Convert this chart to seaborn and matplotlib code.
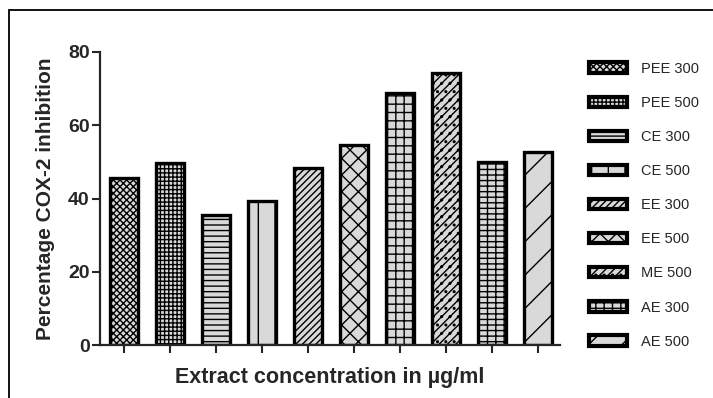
import seaborn as sns
import matplotlib.pyplot as plt
from matplotlib.patches import Patch, Rectangle

# bar data
extracts = ["PEE 300", "PEE 500", "CE 300", "CE 500", "EE 300",
            "EE 500", "ME 300", "ME 500", "AE 300", "AE 500"]
inhibition = [45.6, 49.8, 35.5, 39.4, 48.3, 54.5, 68.7, 74.3, 50.1, 52.6]
hatches = ["xxxxx", "++++", "---", "|", "/////", "xx", "++", "////..", "---||", "/"]

# legend in the original only lists nine of the ten bars
legend_labels = ["PEE 300", "PEE 500", "CE 300", "CE 500", "EE 300",
                 "EE 500", "ME 500", "AE 300", "AE 500"]
legend_hatches = ["xxxxx", "++++", "---", "|", "/////", "xx", "////..", "---||", "/"]

sns.set_style("ticks")
plt.rcParams["font.family"] = ["Liberation Sans", "DejaVu Sans"]
plt.rcParams["hatch.linewidth"] = 1.0

fig = plt.figure(figsize=(7.13, 3.98), dpi=100)
ax = fig.add_axes([100 / 713, 1 - 345 / 398, (560 - 100) / 713, (345 - 52) / 398])

sns.barplot(x=extracts, y=inhibition, color="#d9d9d9", width=0.63,
            edgecolor="black", linewidth=2.4, ax=ax)
for bar, h in zip(ax.patches, hatches):
    bar.set_hatch(h)
    bar.set_facecolor("#d9d9d9")

ax.set_ylim(0, 80)
ax.set_xlim(-24 / 46, 436 / 46)
ax.set_yticks([0, 20, 40, 60, 80])
ax.set_xticklabels([])
ax.tick_params(axis="y", labelsize=14, width=1.5, length=6, pad=1.5)
ax.tick_params(axis="x", width=1.5, length=6)
for lab in ax.get_yticklabels():
    lab.set_fontweight("bold")
for side in ["top", "right"]:
    ax.spines[side].set_visible(False)
for side in ["left", "bottom"]:
    ax.spines[side].set_linewidth(1.6)

ax.set_ylabel("Percentage COX-2 inhibition", fontsize=15, fontweight="bold", labelpad=9)
ax.set_xlabel("Extract concentration in µg/ml", fontsize=15.5, fontweight="bold", labelpad=6)

handles = [Patch(facecolor="#d9d9d9", edgecolor="black", linewidth=3, hatch=h)
           for h in legend_hatches]
fig.legend(handles, legend_labels, loc="upper left", bbox_to_anchor=(0.826, 0.845),
           frameon=False, fontsize=10.5, handlelength=2.6, handleheight=0.7,
           labelspacing=1.38, handletextpad=1.0, borderpad=0, borderaxespad=0)

# frame line of the original figure (only top and left edges are visible)
fig.add_artist(Rectangle((9 / 713, -0.1), 1.2, 1.1 - 10 / 398, transform=fig.transFigure,
                         fill=False, edgecolor="black", linewidth=1.3))

fig.savefig("out.png", dpi=100)
